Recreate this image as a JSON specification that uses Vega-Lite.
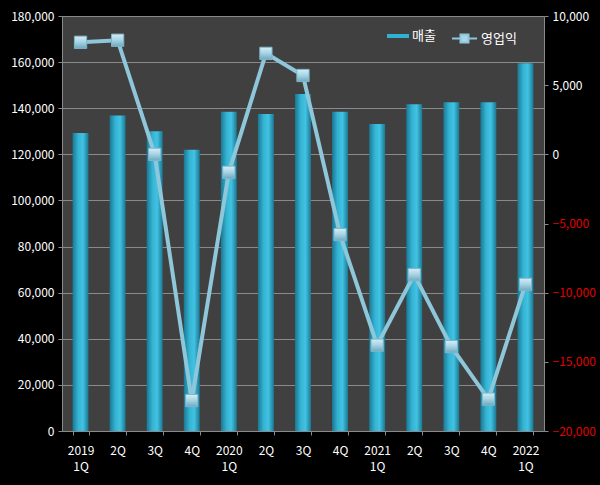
{
  "$schema": "https://vega.github.io/schema/vega-lite/v6.json",
  "width": 482,
  "height": 415,
  "autosize": {"type": "none"},
  "padding": {"left": 62, "top": 16, "right": 56, "bottom": 54},
  "background": "#000000",
  "config": {
    "view": {"fill": "#404040", "stroke": null},
    "font": "Noto Sans CJK KR",
    "axis": {
      "domainColor": "#8a8a8a",
      "tickColor": "#8a8a8a",
      "labelColor": "#ffffff",
      "labelFontSize": 12,
      "labelFont": "Noto Sans CJK KR",
      "gridColor": "#8a8a8a",
      "gridWidth": 1,
      "tickSize": 4,
      "titleColor": "#ffffff"
    },
    "legend": {"labelColor": "#ffffff", "labelFontSize": 13, "labelFont": "Noto Sans CJK KR", "padding": 0}
  },
  "data": {
    "values": [
      {"q": "2019 1Q", "sales": 129200, "op": 8100},
      {"q": "2019 2Q", "sales": 136800, "op": 8250},
      {"q": "2019 3Q", "sales": 130000, "op": 0},
      {"q": "2019 4Q", "sales": 122000, "op": -17800},
      {"q": "2020 1Q", "sales": 138500, "op": -1300},
      {"q": "2020 2Q", "sales": 137500, "op": 7300},
      {"q": "2020 3Q", "sales": 146200, "op": 5700},
      {"q": "2020 4Q", "sales": 138500, "op": -5800},
      {"q": "2021 1Q", "sales": 133200, "op": -13800},
      {"q": "2021 2Q", "sales": 141700, "op": -8700},
      {"q": "2021 3Q", "sales": 142600, "op": -13900},
      {"q": "2021 4Q", "sales": 142600, "op": -17700},
      {"q": "2022 1Q", "sales": 159500, "op": -9400}
    ]
  },
  "encoding": {
    "x": {
      "field": "q",
      "type": "nominal",
      "sort": null,
      "title": null,
      "scale": {"paddingInner": 0.57, "paddingOuter": 0.285},
      "axis": {
        "labelAngle": 0,
        "labelPadding": 10,
        "labelLineHeight": 16,
        "tickBand": "extent",
        "labelExpr": "indexof(datum.label, ' 1Q') > 0 ? split(datum.label, ' ') : substring(datum.label, 5)"
      }
    }
  },
  "layer": [
    {
      "mark": {"type": "bar"},
      "encoding": {
        "y": {
          "field": "sales",
          "type": "quantitative",
          "title": null,
          "scale": {"domain": [0, 180000], "nice": false},
          "axis": {
            "orient": "left",
            "values": [0, 20000, 40000, 60000, 80000, 100000, 120000, 140000, 160000, 180000],
            "format": ",d",
            "grid": true,
            "labelPadding": 4
          }
        },
        "fill": {
          "condition": {
            "test": "false",
            "datum": "매출",
            "scale": {"domain": ["매출"], "range": ["#2fb2d2"]},
            "legend": {
              "title": null,
              "orient": "none",
              "legendX": 325,
              "legendY": 9,
              "symbolType": "M-1,-0.18H1V0.18H-1Z",
              "symbolSize": 484,
              "symbolStrokeWidth": 0,
              "labelOffset": 3
            }
          },
          "value": {"gradient": "linear", "x1": 0, "y1": 0, "x2": 1, "y2": 0, "stops": [
            {"offset": 0, "color": "#1a7893"},
            {"offset": 0.35, "color": "#34b2d2"},
            {"offset": 0.65, "color": "#42c3e3"},
            {"offset": 1, "color": "#1a7893"}
          ]}
        }
      }
    },
    {
      "encoding": {
        "y": {
          "field": "op",
          "type": "quantitative",
          "title": null,
          "scale": {"domain": [-20000, 10000], "nice": false},
          "axis": {
            "orient": "right",
            "values": [-20000, -15000, -10000, -5000, 0, 5000, 10000],
            "format": ",d",
            "grid": false,
            "labelPadding": 4,
            "labelColor": {"condition": {"test": "datum.value < 0", "value": "#e00000"}, "value": "#ffffff"}
          }
        }
      },
      "layer": [
        {
          "mark": {"type": "line", "strokeWidth": 4},
          "encoding": {
            "stroke": {
              "datum": "영업익",
              "scale": {"domain": ["영업익"], "range": ["#8ec6da"]},
              "legend": {
                "title": null,
                "orient": "none",
                "legendX": 389,
                "legendY": 9,
                "symbolType": "M-1,0H-0.32M0.32,0H1M-0.32,-0.32H0.32V0.32H-0.32Z",
                "symbolSize": 625,
                "symbolStrokeWidth": 2,
                "symbolFillColor": "#a9d6e6",
                "labelOffset": 3
              }
            }
          }
        },
        {
          "mark": {
            "type": "point",
            "shape": "square",
            "size": 150,
            "filled": true,
            "opacity": 1,
            "fill": {"gradient": "linear", "x1": 0, "y1": 0, "x2": 0, "y2": 1, "stops": [
              {"offset": 0, "color": "#d6eef6"},
              {"offset": 0.5, "color": "#a4d3e3"},
              {"offset": 1, "color": "#6fa9bf"}
            ]},
            "stroke": "#7fb5c9",
            "strokeWidth": 1
          }
        }
      ]
    }
  ],
  "resolve": {"scale": {"y": "independent"}}
}
